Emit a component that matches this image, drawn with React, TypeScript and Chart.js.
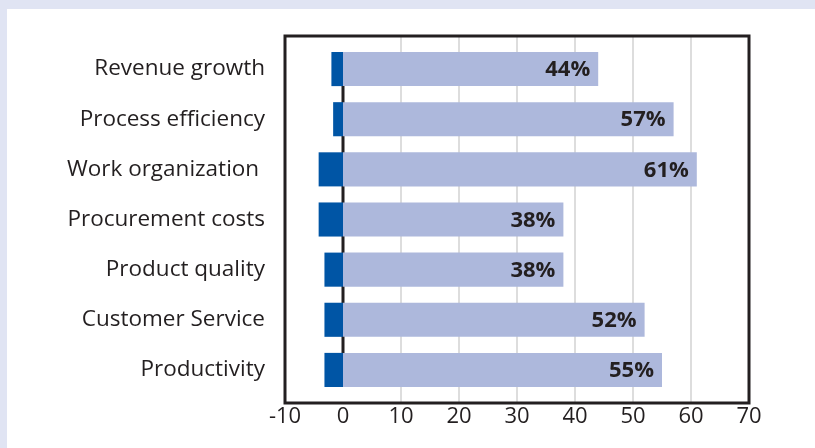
import React, { useEffect, useRef } from "react";
import { Chart, registerables } from "chart.js";

Chart.register(...registerables);

const categories = [
  "Revenue growth",
  "Process efficiency",
  "Work organization ",
  "Procurement costs",
  "Product quality",
  "Customer Service",
  "Productivity",
];
const negativeValues = [-2, -1.7, -4.2, -4.2, -3.2, -3.2, -3.2];
const positiveValues = [44, 57, 61, 38, 38, 52, 55];
const xTicks = [-10, 0, 10, 20, 30, 40, 50, 60, 70];

const FONT = "'Open Sans', 'Noto Sans', sans-serif";
const INK = "#231f20";
const EXTEND = 8;

const bgPlugin = {
  id: "bg",
  beforeDraw(chart: any) {
    const { ctx, width, height } = chart;
    ctx.save();
    ctx.fillStyle = "#e0e4f3";
    ctx.fillRect(0, 0, width, height);
    ctx.fillStyle = "#ffffff";
    ctx.fillRect(7, 9, width - 7, height - 9);
    ctx.restore();
  },
};

const framePlugin = {
  id: "frame",
  beforeDatasetsDraw(chart: any) {
    const { ctx, chartArea } = chart;
    const xs = chart.scales.x;
    const top = chartArea.top - EXTEND;
    const bottom = chartArea.bottom + EXTEND;
    ctx.save();
    ctx.strokeStyle = "#d2d2d2";
    ctx.lineWidth = 1.5;
    xTicks.forEach((v) => {
      if (v === 0 || v === xTicks[0] || v === xTicks[xTicks.length - 1]) return;
      const x = xs.getPixelForValue(v);
      ctx.beginPath();
      ctx.moveTo(x, top);
      ctx.lineTo(x, bottom);
      ctx.stroke();
    });
    const meta = chart.getDatasetMeta(1);
    if (meta.data.length) {
      const first = meta.data[0];
      const last = meta.data[meta.data.length - 1];
      const x0 = xs.getPixelForValue(0);
      ctx.strokeStyle = INK;
      ctx.lineWidth = 3;
      ctx.beginPath();
      ctx.moveTo(x0, first.y - first.height / 2);
      ctx.lineTo(x0, last.y + last.height / 2);
      ctx.stroke();
    }
    ctx.restore();
  },
  afterDatasetsDraw(chart: any) {
    const { ctx } = chart;
    const meta = chart.getDatasetMeta(1);
    ctx.save();
    ctx.fillStyle = INK;
    ctx.font = `bold 22px ${FONT}`;
    ctx.textAlign = "right";
    ctx.textBaseline = "middle";
    meta.data.forEach((bar: any, i: number) => {
      ctx.fillText(`${positiveValues[i]}%`, bar.x - 8, bar.y + 1);
    });
    ctx.restore();
  },
  afterDraw(chart: any) {
    const { ctx, chartArea } = chart;
    ctx.save();
    ctx.strokeStyle = INK;
    ctx.lineWidth = 3;
    ctx.strokeRect(
      chartArea.left,
      chartArea.top - EXTEND,
      chartArea.right - chartArea.left,
      chartArea.bottom - chartArea.top + 2 * EXTEND
    );
    ctx.restore();
  },
};

export default function App() {
  const ref = useRef<HTMLCanvasElement>(null);
  useEffect(() => {
    if (!ref.current) return;
    const chart = new Chart(ref.current, {
      type: "bar",
      data: {
        labels: categories,
        datasets: [
          {
            data: negativeValues,
            backgroundColor: "#0055a5",
            barPercentage: 0.68,
            categoryPercentage: 1,
            borderWidth: 0,
          },
          {
            data: positiveValues,
            backgroundColor: "#adb8dc",
            barPercentage: 0.68,
            categoryPercentage: 1,
            borderWidth: 0,
          },
        ],
      },
      options: {
        indexAxis: "y",
        animation: false,
        responsive: false,
        maintainAspectRatio: false,
        layout: { padding: { top: 44, right: 66, left: 0, bottom: 0 } },
        plugins: {
          legend: { display: false },
          tooltip: { enabled: false },
        },
        scales: {
          x: {
            stacked: true,
            min: -10,
            max: 70,
            afterBuildTicks(scale: any) {
              scale.ticks = xTicks.map((v) => ({ value: v }));
            },
            afterFit(scale: any) {
              scale.height = 53;
            },
            grid: { display: false, drawTicks: false },
            border: { display: false },
            ticks: {
              color: INK,
              padding: 9,
              font: { family: FONT, size: 22 },
            },
          },
          y: {
            stacked: true,
            afterFit(scale: any) {
              scale.width = 285;
            },
            grid: { display: false, drawTicks: false },
            border: { display: false },
            ticks: {
              color: INK,
              padding: 20,
              font: { family: FONT, size: 22.5 },
            },
          },
        },
      },
      plugins: [bgPlugin, framePlugin],
    });
    return () => chart.destroy();
  }, []);
  return (
    <div style={{ position: "fixed", left: 0, top: 0, width: 815, height: 448 }}>
      <canvas ref={ref} width={815} height={448} style={{ width: 815, height: 448 }} />
    </div>
  );
}
